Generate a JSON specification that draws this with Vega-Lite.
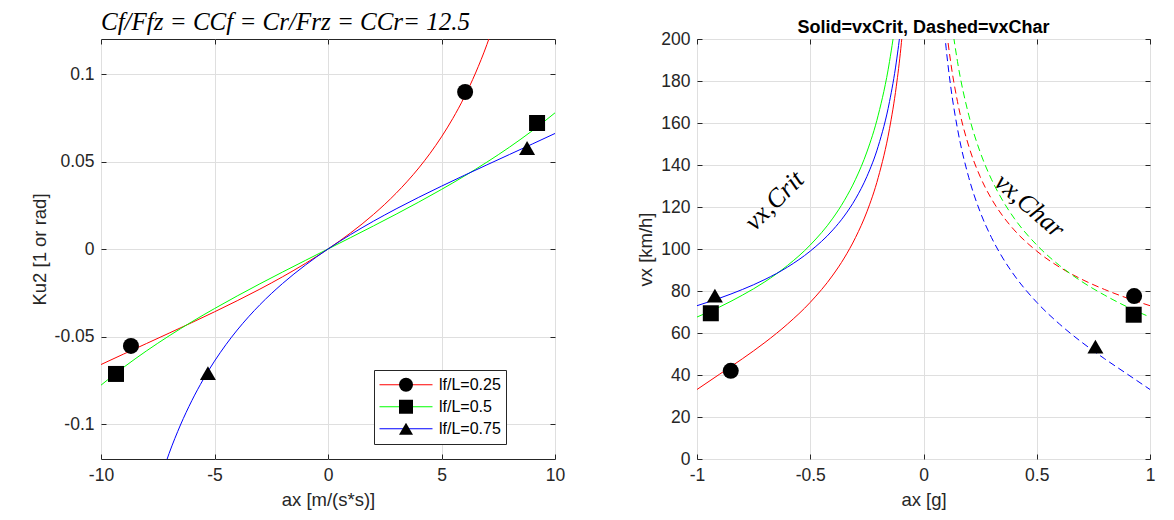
{
  "$schema": "https://vega.github.io/schema/vega-lite/v6.json",
  "background": "white",
  "padding": {"left": 29, "top": 9, "right": 10, "bottom": 5},
  "bounds": "flush",
  "spacing": 142,
  "config": {
    "font": "Liberation Sans",
    "view": {"stroke": "#262626", "strokeWidth": 1},
    "axis": {
      "domain": false, "grid": true, "gridColor": "#dfdfdf", "gridWidth": 1,
      "tickColor": "#262626", "tickSize": -5, "tickWidth": 1, "labelPadding": 12,
      "labelColor": "#262626", "labelFont": "Liberation Sans", "labelFontSize": 17.5,
      "labelFlush": false, "labelOverlap": false,
      "titleColor": "#262626", "titleFont": "Liberation Sans", "titleFontSize": 18.5, "titleFontWeight": "normal"
    },
    "axisX": {"titlePadding": 7},
    "axisY": {"titlePadding": 5}
  },
  "datasets": {
    "ku": [
      {"x": -10, "y": -0.06602, "s": "lf/L=0.25"}, {"x": -9, "y": -0.06000, "s": "lf/L=0.25"}, {"x": -8, "y": -0.05404, "s": "lf/L=0.25"},
      {"x": -7, "y": -0.04808, "s": "lf/L=0.25"}, {"x": -6, "y": -0.04206, "s": "lf/L=0.25"}, {"x": -5, "y": -0.03591, "s": "lf/L=0.25"},
      {"x": -4, "y": -0.02956, "s": "lf/L=0.25"}, {"x": -3, "y": -0.02292, "s": "lf/L=0.25"}, {"x": -2, "y": -0.01587, "s": "lf/L=0.25"},
      {"x": -1, "y": -0.00829, "s": "lf/L=0.25"}, {"x": 0, "y": 0, "s": "lf/L=0.25"}, {"x": 1, "y": 0.00923, "s": "lf/L=0.25"},
      {"x": 2, "y": 0.01970, "s": "lf/L=0.25"}, {"x": 3, "y": 0.03185, "s": "lf/L=0.25"}, {"x": 3.5, "y": 0.03875, "s": "lf/L=0.25"},
      {"x": 4, "y": 0.04632, "s": "lf/L=0.25"}, {"x": 4.5, "y": 0.05471, "s": "lf/L=0.25"}, {"x": 5, "y": 0.06408, "s": "lf/L=0.25"},
      {"x": 5.5, "y": 0.07464, "s": "lf/L=0.25"}, {"x": 6, "y": 0.08668, "s": "lf/L=0.25"}, {"x": 6.5, "y": 0.10058, "s": "lf/L=0.25"},
      {"x": 7, "y": 0.11683, "s": "lf/L=0.25"}, {"x": 7.5, "y": 0.13617, "s": "lf/L=0.25"},
      {"x": -10, "y": -0.07781, "s": "lf/L=0.5"}, {"x": -9, "y": -0.06758, "s": "lf/L=0.5"}, {"x": -8, "y": -0.05825, "s": "lf/L=0.5"},
      {"x": -7, "y": -0.04964, "s": "lf/L=0.5"}, {"x": -6, "y": -0.04161, "s": "lf/L=0.5"}, {"x": -5, "y": -0.03404, "s": "lf/L=0.5"},
      {"x": -4, "y": -0.02683, "s": "lf/L=0.5"}, {"x": -3, "y": -0.01989, "s": "lf/L=0.5"}, {"x": -2, "y": -0.01316, "s": "lf/L=0.5"},
      {"x": -1, "y": -0.00655, "s": "lf/L=0.5"}, {"x": 0, "y": 0, "s": "lf/L=0.5"}, {"x": 1, "y": 0.00655, "s": "lf/L=0.5"},
      {"x": 2, "y": 0.01316, "s": "lf/L=0.5"}, {"x": 3, "y": 0.01989, "s": "lf/L=0.5"}, {"x": 4, "y": 0.02683, "s": "lf/L=0.5"},
      {"x": 5, "y": 0.03404, "s": "lf/L=0.5"}, {"x": 6, "y": 0.04161, "s": "lf/L=0.5"}, {"x": 7, "y": 0.04964, "s": "lf/L=0.5"},
      {"x": 8, "y": 0.05825, "s": "lf/L=0.5"}, {"x": 9, "y": 0.06758, "s": "lf/L=0.5"}, {"x": 10, "y": 0.07781, "s": "lf/L=0.5"},
      {"x": -7.5, "y": -0.13617, "s": "lf/L=0.75"}, {"x": -7, "y": -0.11683, "s": "lf/L=0.75"}, {"x": -6.5, "y": -0.10058, "s": "lf/L=0.75"},
      {"x": -6, "y": -0.08668, "s": "lf/L=0.75"}, {"x": -5.5, "y": -0.07464, "s": "lf/L=0.75"}, {"x": -5, "y": -0.06408, "s": "lf/L=0.75"},
      {"x": -4.5, "y": -0.05471, "s": "lf/L=0.75"}, {"x": -4, "y": -0.04632, "s": "lf/L=0.75"}, {"x": -3.5, "y": -0.03875, "s": "lf/L=0.75"},
      {"x": -3, "y": -0.03185, "s": "lf/L=0.75"}, {"x": -2, "y": -0.01970, "s": "lf/L=0.75"}, {"x": -1, "y": -0.00923, "s": "lf/L=0.75"},
      {"x": 0, "y": 0, "s": "lf/L=0.75"}, {"x": 1, "y": 0.00829, "s": "lf/L=0.75"}, {"x": 2, "y": 0.01587, "s": "lf/L=0.75"},
      {"x": 3, "y": 0.02292, "s": "lf/L=0.75"}, {"x": 4, "y": 0.02956, "s": "lf/L=0.75"}, {"x": 5, "y": 0.03591, "s": "lf/L=0.75"},
      {"x": 6, "y": 0.04206, "s": "lf/L=0.75"}, {"x": 7, "y": 0.04808, "s": "lf/L=0.75"}, {"x": 8, "y": 0.05404, "s": "lf/L=0.75"},
      {"x": 9, "y": 0.06000, "s": "lf/L=0.75"}, {"x": 10, "y": 0.06602, "s": "lf/L=0.75"}
    ],
    "kum": [
      {"x": -8.68, "y": -0.0554, "m": "c"}, {"x": 6.04, "y": 0.0897, "m": "c"},
      {"x": -9.34, "y": -0.0714, "m": "s"}, {"x": 9.21, "y": 0.072, "m": "s"},
      {"x": -5.29, "y": -0.0709, "m": "t"}, {"x": 8.77, "y": 0.0577, "m": "t"}
    ],
    "vxs": [
      {"a": -1, "v": 33.1, "s": "lf/L=0.25"}, {"a": -0.9, "v": 40.4, "s": "lf/L=0.25"}, {"a": -0.8, "v": 47.7, "s": "lf/L=0.25"},
      {"a": -0.7, "v": 55.5, "s": "lf/L=0.25"}, {"a": -0.6, "v": 64.3, "s": "lf/L=0.25"}, {"a": -0.5, "v": 74.6, "s": "lf/L=0.25"},
      {"a": -0.4, "v": 87.6, "s": "lf/L=0.25"}, {"a": -0.35, "v": 95.7, "s": "lf/L=0.25"}, {"a": -0.3, "v": 105.5, "s": "lf/L=0.25"},
      {"a": -0.25, "v": 117.7, "s": "lf/L=0.25"}, {"a": -0.2, "v": 134.0, "s": "lf/L=0.25"}, {"a": -0.15, "v": 157.3, "s": "lf/L=0.25"},
      {"a": -0.12, "v": 177.5, "s": "lf/L=0.25"}, {"a": -0.1, "v": 195.6, "s": "lf/L=0.25"}, {"a": -0.08, "v": 220.0, "s": "lf/L=0.25"},
      {"a": -0.06, "v": 255.5, "s": "lf/L=0.25"},
      {"a": -1, "v": 67.6, "s": "lf/L=0.5"}, {"a": -0.9, "v": 72.4, "s": "lf/L=0.5"}, {"a": -0.8, "v": 78.0, "s": "lf/L=0.5"},
      {"a": -0.7, "v": 84.4, "s": "lf/L=0.5"}, {"a": -0.6, "v": 92.2, "s": "lf/L=0.5"}, {"a": -0.5, "v": 101.9, "s": "lf/L=0.5"},
      {"a": -0.4, "v": 114.7, "s": "lf/L=0.5"}, {"a": -0.35, "v": 123.0, "s": "lf/L=0.5"}, {"a": -0.3, "v": 133.2, "s": "lf/L=0.5"},
      {"a": -0.25, "v": 146.2, "s": "lf/L=0.5"}, {"a": -0.2, "v": 163.7, "s": "lf/L=0.5"}, {"a": -0.15, "v": 189.3, "s": "lf/L=0.5"},
      {"a": -0.12, "v": 211.8, "s": "lf/L=0.5"}, {"a": -0.1, "v": 232.1, "s": "lf/L=0.5"},
      {"a": -1, "v": 73.0, "s": "lf/L=0.75"}, {"a": -0.9, "v": 76.6, "s": "lf/L=0.75"}, {"a": -0.8, "v": 80.7, "s": "lf/L=0.75"},
      {"a": -0.7, "v": 85.5, "s": "lf/L=0.75"}, {"a": -0.6, "v": 91.4, "s": "lf/L=0.75"}, {"a": -0.5, "v": 99.0, "s": "lf/L=0.75"},
      {"a": -0.4, "v": 109.1, "s": "lf/L=0.75"}, {"a": -0.35, "v": 115.7, "s": "lf/L=0.75"}, {"a": -0.3, "v": 123.9, "s": "lf/L=0.75"},
      {"a": -0.25, "v": 134.5, "s": "lf/L=0.75"}, {"a": -0.2, "v": 148.9, "s": "lf/L=0.75"}, {"a": -0.15, "v": 170.2, "s": "lf/L=0.75"},
      {"a": -0.12, "v": 189.0, "s": "lf/L=0.75"}, {"a": -0.1, "v": 206.1, "s": "lf/L=0.75"}, {"a": -0.08, "v": 229.4, "s": "lf/L=0.75"}
    ],
    "vxd": [
      {"a": 0.08, "v": 229.4, "s": "lf/L=0.25"}, {"a": 0.1, "v": 206.1, "s": "lf/L=0.25"}, {"a": 0.12, "v": 189.0, "s": "lf/L=0.25"},
      {"a": 0.15, "v": 170.2, "s": "lf/L=0.25"}, {"a": 0.2, "v": 148.9, "s": "lf/L=0.25"}, {"a": 0.25, "v": 134.5, "s": "lf/L=0.25"},
      {"a": 0.3, "v": 123.9, "s": "lf/L=0.25"}, {"a": 0.35, "v": 115.7, "s": "lf/L=0.25"}, {"a": 0.4, "v": 109.1, "s": "lf/L=0.25"},
      {"a": 0.5, "v": 99.0, "s": "lf/L=0.25"}, {"a": 0.6, "v": 91.4, "s": "lf/L=0.25"}, {"a": 0.7, "v": 85.5, "s": "lf/L=0.25"},
      {"a": 0.8, "v": 80.7, "s": "lf/L=0.25"}, {"a": 0.9, "v": 76.6, "s": "lf/L=0.25"}, {"a": 1, "v": 73.0, "s": "lf/L=0.25"},
      {"a": 0.1, "v": 232.1, "s": "lf/L=0.5"}, {"a": 0.12, "v": 211.8, "s": "lf/L=0.5"}, {"a": 0.15, "v": 189.3, "s": "lf/L=0.5"},
      {"a": 0.2, "v": 163.7, "s": "lf/L=0.5"}, {"a": 0.25, "v": 146.2, "s": "lf/L=0.5"}, {"a": 0.3, "v": 133.2, "s": "lf/L=0.5"},
      {"a": 0.35, "v": 123.0, "s": "lf/L=0.5"}, {"a": 0.4, "v": 114.7, "s": "lf/L=0.5"}, {"a": 0.5, "v": 101.9, "s": "lf/L=0.5"},
      {"a": 0.6, "v": 92.2, "s": "lf/L=0.5"}, {"a": 0.7, "v": 84.4, "s": "lf/L=0.5"}, {"a": 0.8, "v": 78.0, "s": "lf/L=0.5"},
      {"a": 0.9, "v": 72.4, "s": "lf/L=0.5"}, {"a": 1, "v": 67.6, "s": "lf/L=0.5"},
      {"a": 0.06, "v": 255.5, "s": "lf/L=0.75"}, {"a": 0.08, "v": 220.0, "s": "lf/L=0.75"}, {"a": 0.1, "v": 195.6, "s": "lf/L=0.75"},
      {"a": 0.12, "v": 177.5, "s": "lf/L=0.75"}, {"a": 0.15, "v": 157.3, "s": "lf/L=0.75"}, {"a": 0.2, "v": 134.0, "s": "lf/L=0.75"},
      {"a": 0.25, "v": 117.7, "s": "lf/L=0.75"}, {"a": 0.3, "v": 105.5, "s": "lf/L=0.75"}, {"a": 0.35, "v": 95.7, "s": "lf/L=0.75"},
      {"a": 0.4, "v": 87.6, "s": "lf/L=0.75"}, {"a": 0.5, "v": 74.6, "s": "lf/L=0.75"}, {"a": 0.6, "v": 64.3, "s": "lf/L=0.75"},
      {"a": 0.7, "v": 55.5, "s": "lf/L=0.75"}, {"a": 0.8, "v": 47.7, "s": "lf/L=0.75"}, {"a": 0.9, "v": 40.4, "s": "lf/L=0.75"},
      {"a": 1, "v": 33.1, "s": "lf/L=0.75"}
    ],
    "vxm": [
      {"a": -0.851, "v": 42.0, "m": "c"}, {"a": 0.93, "v": 77.6, "m": "c"},
      {"a": -0.939, "v": 69.4, "m": "s"}, {"a": 0.928, "v": 68.7, "m": "s"},
      {"a": -0.921, "v": 77.8, "m": "t"}, {"a": 0.759, "v": 53.5, "m": "t"}
    ]
  },
  "resolve": {"scale": {"color": "independent", "shape": "independent"}},
  "hconcat": [
    {
      "width": 454,
      "height": 420,
      "title": {"text": "Cf/Ffz = CCf = Cr/Frz = CCr= 12.5", "font": "Liberation Serif", "fontStyle": "italic", "fontSize": 25, "fontWeight": "normal", "anchor": "start", "frame": "group", "offset": 4, "color": "black"},
      "layer": [
        {
          "data": {"name": "ku"},
          "mark": {"type": "line", "interpolate": "monotone", "clip": true, "strokeWidth": 1},
          "encoding": {
            "x": {"field": "x", "type": "quantitative", "scale": {"domain": [-10, 10], "nice": false},
                  "axis": {"orient": "bottom", "title": "ax [m/(s*s)]", "values": [-10, -5, 0, 5, 10], "labelExpr": "datum.value + ''"}},
            "y": {"field": "y", "type": "quantitative", "scale": {"domain": [-0.12, 0.12], "nice": false},
                  "axis": {"orient": "left", "title": "Ku2 [1 or rad]", "values": [-0.1, -0.05, 0, 0.05, 0.1], "labelExpr": "datum.value + ''"}},
            "color": {"field": "s", "type": "nominal",
                      "scale": {"domain": ["lf/L=0.25", "lf/L=0.5", "lf/L=0.75"], "range": ["#ff0000", "#00ff00", "#0000ff"]},
                      "legend": {"title": null, "orient": "none", "legendX": 273, "legendY": 331, "symbolType": "stroke",
                                 "symbolSize": 2809, "symbolStrokeWidth": 1, "clipHeight": 19.5, "rowPadding": 2, "padding": 5,
                                 "labelOffset": 6, "labelFont": "Liberation Sans", "labelFontSize": 16, "labelColor": "black",
                                 "strokeColor": "#262626", "fillColor": "white", "zindex": 1}}
          }
        },
        {
          "data": {"name": "kum"},
          "mark": {"type": "point", "filled": true, "color": "black", "size": 256, "opacity": 1, "strokeWidth": 0},
          "encoding": {
            "x": {"field": "x", "type": "quantitative", "scale": {"domain": [-10, 10], "nice": false},
                  "axis": {"orient": "top", "labels": false, "grid": false, "title": null, "values": [-10, -5, 0, 5, 10]}},
            "y": {"field": "y", "type": "quantitative", "scale": {"domain": [-0.12, 0.12], "nice": false},
                  "axis": {"orient": "right", "labels": false, "grid": false, "title": null, "values": [-0.1, -0.05, 0, 0.05, 0.1]}},
            "shape": {"field": "m", "type": "nominal",
                      "scale": {"domain": ["c", "s", "t"], "range": ["circle", "square", "triangle-up"]},
                      "legend": {"title": null, "orient": "none", "legendX": 292, "legendY": 331, "symbolSize": 196,
                                 "symbolStrokeWidth": 0, "symbolFillColor": "black", "clipHeight": 19.5, "rowPadding": 2,
                                 "padding": 5, "labelFontSize": 16, "labelOpacity": 0, "zindex": 2}}
          }
        }
      ],
      "resolve": {"axis": {"x": "independent", "y": "independent"}}
    },
    {
      "width": 453,
      "height": 420,
      "title": {"text": "Solid=vxCrit, Dashed=vxChar", "font": "Liberation Sans", "fontSize": 18, "fontWeight": "bold", "anchor": "middle", "frame": "group", "offset": -7, "color": "black"},
      "layer": [
        {
          "data": {"name": "vxs"},
          "mark": {"type": "line", "interpolate": "monotone", "clip": true, "strokeWidth": 1},
          "encoding": {
            "x": {"field": "a", "type": "quantitative", "scale": {"domain": [-1, 1], "nice": false},
                  "axis": {"orient": "bottom", "title": "ax [g]", "values": [-1, -0.5, 0, 0.5, 1], "labelExpr": "datum.value + ''"}},
            "y": {"field": "v", "type": "quantitative", "scale": {"domain": [0, 200], "nice": false},
                  "axis": {"orient": "left", "title": "vx [km/h]", "values": [0, 20, 40, 60, 80, 100, 120, 140, 160, 180, 200], "labelExpr": "datum.value + ''"}},
            "color": {"field": "s", "type": "nominal",
                      "scale": {"domain": ["lf/L=0.25", "lf/L=0.5", "lf/L=0.75"], "range": ["#ff0000", "#00ff00", "#0000ff"]},
                      "legend": null}
          }
        },
        {
          "data": {"name": "vxd"},
          "mark": {"type": "line", "interpolate": "monotone", "clip": true, "strokeWidth": 1, "strokeDash": [7, 4]},
          "encoding": {
            "x": {"field": "a", "type": "quantitative", "scale": {"domain": [-1, 1], "nice": false}, "axis": null},
            "y": {"field": "v", "type": "quantitative", "scale": {"domain": [0, 200], "nice": false}, "axis": null},
            "color": {"field": "s", "type": "nominal", "legend": null}
          }
        },
        {
          "data": {"name": "vxm"},
          "mark": {"type": "point", "filled": true, "color": "black", "size": 256, "opacity": 1, "strokeWidth": 0},
          "encoding": {
            "x": {"field": "a", "type": "quantitative", "scale": {"domain": [-1, 1], "nice": false},
                  "axis": {"orient": "top", "labels": false, "grid": false, "title": null, "values": [-1, -0.5, 0, 0.5, 1]}},
            "y": {"field": "v", "type": "quantitative", "scale": {"domain": [0, 200], "nice": false},
                  "axis": {"orient": "right", "labels": false, "grid": false, "title": null, "values": [0, 20, 40, 60, 80, 100, 120, 140, 160, 180, 200]}},
            "shape": {"field": "m", "type": "nominal",
                      "scale": {"domain": ["c", "s", "t"], "range": ["circle", "square", "triangle-up"]}, "legend": null}
          }
        },
        {
          "data": {"values": [{"a": -0.658, "v": 123, "t": "vx,Crit"}]},
          "mark": {"type": "text", "angle": -45, "font": "Liberation Serif", "fontStyle": "italic", "fontSize": 26, "align": "center", "baseline": "middle", "color": "black"},
          "encoding": {
            "x": {"field": "a", "type": "quantitative", "axis": null},
            "y": {"field": "v", "type": "quantitative", "axis": null},
            "text": {"field": "t"}
          }
        },
        {
          "data": {"values": [{"a": 0.468, "v": 120.6, "t": "vx,Char"}]},
          "mark": {"type": "text", "angle": 41, "font": "Liberation Serif", "fontStyle": "italic", "fontSize": 26, "align": "center", "baseline": "middle", "color": "black"},
          "encoding": {
            "x": {"field": "a", "type": "quantitative", "axis": null},
            "y": {"field": "v", "type": "quantitative", "axis": null},
            "text": {"field": "t"}
          }
        }
      ],
      "resolve": {"axis": {"x": "independent", "y": "independent"}}
    }
  ]
}
